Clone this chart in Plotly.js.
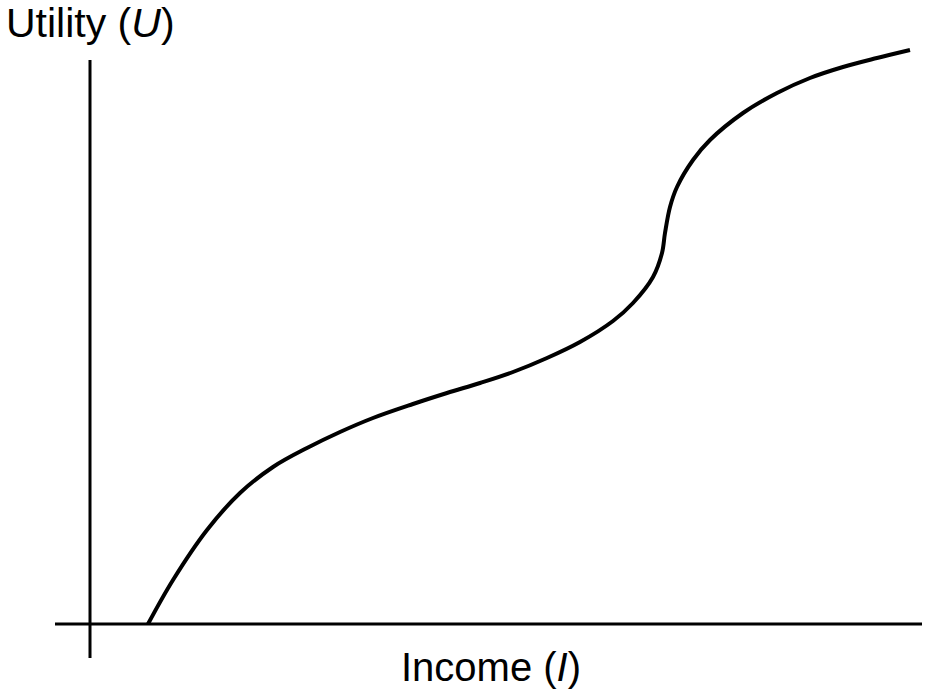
<!DOCTYPE html>
<html>
<head>
<meta charset="utf-8">
<script src="https://cdn.plot.ly/plotly-3.0.1.min.js"></script>
<style>html,body{margin:0;padding:0;background:#fff;}#chart{width:925px;height:695px;}</style>
</head>
<body>
<div id="chart"></div>
<script>
// Income (I) and utility (U) (arbitrary units)
const income = [58, 83, 117, 150, 183, 217, 250, 283, 323, 357, 390, 423, 457, 490, 523, 543, 563, 572, 575, 580, 587, 603, 620, 653, 687, 720, 753, 787, 820];
const utility = [0, 44, 94, 131, 157, 176, 192, 206, 220, 231, 241, 252, 266, 282, 303, 321, 347, 371, 391, 417, 437, 464, 484, 511, 531, 546, 557, 566, 574];
const yLabel = 'Utility (<i>U</i>)';
const xLabel = 'Income (<i>I</i>)';

const trace = {
  x: income,
  y: utility,
  type: 'scatter',
  mode: 'lines',
  line: {color: '#000', width: 4, shape: 'spline', smoothing: 1},
  hoverinfo: 'skip'
};

const layout = {
  width: 925,
  height: 695,
  margin: {l: 0, r: 0, t: 0, b: 0},
  paper_bgcolor: '#fff',
  plot_bgcolor: '#fff',
  showlegend: false,
  xaxis: {range: [-90, 835], showgrid: false, zeroline: false, showticklabels: false, ticks: '', showline: false, fixedrange: true},
  yaxis: {range: [-71, 624], showgrid: false, zeroline: false, showticklabels: false, ticks: '', showline: false, fixedrange: true},
  shapes: [
    {type: 'line', xref: 'x', yref: 'y', x0: 0, x1: 0, y0: -34, y1: 564, line: {color: '#000', width: 3}},
    {type: 'line', xref: 'x', yref: 'y', x0: -35, x1: 832, y0: 0, y1: 0, line: {color: '#000', width: 3}}
  ],
  annotations: [
    {text: yLabel, xref: 'x', yref: 'y', x: 0, y: 601, xanchor: 'center', yanchor: 'middle', showarrow: false,
     font: {family: 'Liberation Sans, Arial, sans-serif', size: 41, color: '#000'}},
    {text: xLabel, xref: 'x', yref: 'y', x: 401, y: -43, xanchor: 'center', yanchor: 'middle', showarrow: false,
     font: {family: 'Liberation Sans, Arial, sans-serif', size: 40, color: '#000'}}
  ]
};

Plotly.newPlot('chart', [trace], layout, {displayModeBar: false, staticPlot: true});
</script>
</body>
</html>
